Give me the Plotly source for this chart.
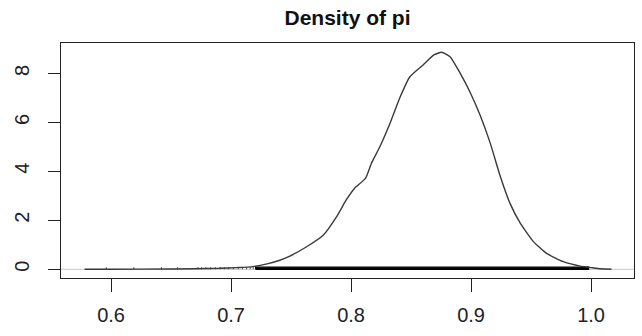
import plotly.graph_objects as go

# Density curve
dens_x = [0.578, 0.60, 0.65, 0.69, 0.705, 0.718, 0.73, 0.74, 0.749, 0.763, 0.777, 0.788,
          0.796, 0.803, 0.812, 0.817, 0.824, 0.8325, 0.841, 0.849, 0.860, 0.869, 0.8755,
          0.8825, 0.891, 0.899, 0.9075, 0.916, 0.924, 0.9325, 0.941, 0.952, 0.963, 0.977,
          0.991, 0.999, 1.008, 1.017]
dens_y = [0.0, 0.005, 0.015, 0.04, 0.07, 0.11, 0.22, 0.36, 0.54, 0.92, 1.40, 2.15,
          2.83, 3.31, 3.71, 4.33, 5.0, 5.96, 7.04, 7.86, 8.34, 8.75, 8.86,
          8.68, 8.0, 7.25, 6.3, 5.15, 3.85, 2.69, 1.88, 1.13, 0.65, 0.31,
          0.13, 0.08, 0.02, 0.0]

# Sample rug marks (sparse tail) and dense rug span
rug_x = [0.596, 0.619, 0.642, 0.6555, 0.6725, 0.6755, 0.679, 0.683, 0.687, 0.691,
         0.6945, 0.698, 0.702, 0.706, 0.7095, 0.713, 0.716, 0.7185]
rug_band = [0.7205, 0.998]

x_ticks = [0.6, 0.7, 0.8, 0.9, 1.0]
x_tick_labels = ["0.6", "0.7", "0.8", "0.9", "1.0"]
y_ticks = [0, 2, 4, 6, 8]
y_tick_labels = ["0", "2", "4", "6", "8"]

title = "Density of pi"
rug_h = max(dens_y) / 100

fig = go.Figure()

# zero line (gray)
fig.add_shape(type="line", xref="paper", x0=0, x1=1, yref="y", y0=0, y1=0,
              line=dict(color="#c8c8c8", width=1), layer="below")

# rug ticks
rx, ry = [], []
for v in rug_x:
    rx += [v, v, None]
    ry += [0, rug_h, None]
fig.add_trace(go.Scatter(x=rx, y=ry, mode="lines",
                         line=dict(color="#555555", width=1), hoverinfo="skip"))

# dense rug band
fig.add_trace(go.Scatter(x=[rug_band[0], rug_band[1], rug_band[1], rug_band[0], rug_band[0]],
                         y=[0, 0, rug_h, rug_h, 0], mode="lines", fill="toself",
                         fillcolor="black", line=dict(color="black", width=1.2),
                         hoverinfo="skip"))

# density curve
fig.add_trace(go.Scatter(x=dens_x, y=dens_y, mode="lines",
                         line=dict(color="#3a3a3a", width=1.4, shape="spline", smoothing=0.5)))

font_family = "Liberation Sans, Arial, sans-serif"

fig.update_layout(
    width=642, height=336,
    margin=dict(l=61, r=8, t=43, b=58, autoexpand=False),
    paper_bgcolor="white", plot_bgcolor="white",
    showlegend=False,
    font=dict(family=font_family, color="#222222", size=20),
    title=dict(text="<b>" + title + "</b>", x=0.5, xref="paper", xanchor="center",
               y=1 - 18 / 336, yref="container", yanchor="middle",
               font=dict(size=21, family=font_family, color="#111111")),
    xaxis=dict(range=[0.5583, 1.0358], tickvals=x_ticks, ticktext=x_tick_labels,
               automargin=False,
               showgrid=False, zeroline=False, showline=True, mirror=True,
               linecolor="#222222", linewidth=1.4, ticks="outside", ticklen=13,
               tickwidth=1.3, tickcolor="#222222", ticklabelstandoff=6),
    yaxis=dict(range=[-0.355, 9.237], tickvals=y_ticks, ticktext=y_tick_labels,
               tickangle=-90, automargin=False,
               showgrid=False, zeroline=False, showline=True, mirror=True,
               linecolor="#222222", linewidth=1.4, ticks="outside", ticklen=12,
               tickwidth=1.3, tickcolor="#222222", ticklabelstandoff=11),
)

fig.write_html("out.html", config={"displayModeBar": False},
               post_script="document.body.style.margin='0';document.body.style.overflow='hidden';")
